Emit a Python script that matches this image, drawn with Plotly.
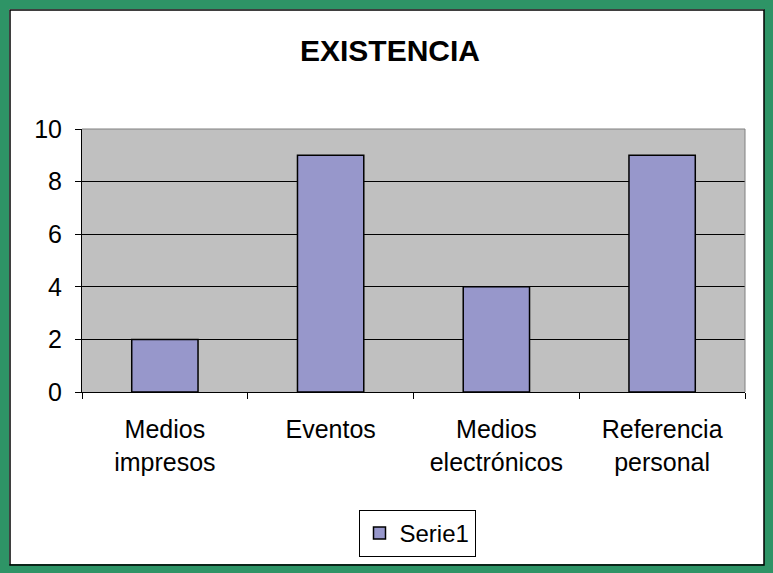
import plotly.graph_objects as go

categories = ["Medios<br>impresos", "Eventos", "Medios<br>electrónicos", "Referencia<br>personal"]
serie1 = [2, 9, 4, 9]
y_ticks = [0, 2, 4, 6, 8, 10]

W, H = 773, 573
L, R, T, B = 82, 28, 129, 181
pw, ph = W - L - R, H - T - B


def px_x(px):
    return (px - L) / pw


def px_y(py):
    return (H - B - py) / ph


fig = go.Figure()
fig.add_trace(go.Bar(
    x=categories, y=serie1, name="Serie1",
    marker=dict(color="#9797CB", line=dict(color="black", width=1.5)),
    showlegend=True,
))

shapes = [
    # green outer frame
    dict(type="rect", xref="paper", yref="paper",
         x0=px_x(4.5), x1=px_x(768.5), y0=px_y(568.5), y1=px_y(4.5),
         line=dict(color="#2E9466", width=9), fillcolor="rgba(0,0,0,0)", layer="above"),
    # thin dark inner edge
    dict(type="rect", xref="paper", yref="paper",
         x0=px_x(10), x1=px_x(764), y0=px_y(565), y1=px_y(10),
         line=dict(color="black", width=1.5), fillcolor="rgba(0,0,0,0)", layer="above"),
    # plot-area border (top and right)
    dict(type="line", xref="paper", yref="paper", x0=0, x1=1, y0=1, y1=1,
         line=dict(color="#808080", width=1), layer="above"),
    dict(type="line", xref="paper", yref="paper", x0=1, x1=1, y0=0, y1=1,
         line=dict(color="#808080", width=1), layer="above"),
]

fig.update_layout(
    width=W, height=H,
    margin=dict(l=L, r=R, t=T, b=B),
    paper_bgcolor="white",
    plot_bgcolor="#C0C0C0",
    font=dict(family="Liberation Sans, Arial, sans-serif", size=25, color="black"),
    title=dict(text="<b>EXISTENCIA</b>", font=dict(size=30, color="black"),
               x=390 / W, xanchor="center", xref="container",
               y=1 - 50 / H, yanchor="middle", yref="container"),
    bargap=0.6,
    shapes=shapes,
    legend=dict(
        x=px_x(417), xanchor="center", y=px_y(510), yanchor="top",
        bordercolor="black", borderwidth=1, bgcolor="white",
        font=dict(size=24), itemwidth=30,
    ),
    xaxis=dict(
        showline=True, linecolor="black", linewidth=1,
        ticks="outside", ticklen=6, tickcolor="black", tickson="boundaries",
        showgrid=False, tickfont=dict(size=25), ticklabelstandoff=15,
    ),
    yaxis=dict(
        range=[0, 10], tickvals=y_ticks,
        showline=True, linecolor="black", linewidth=1,
        ticks="outside", ticklen=6, tickcolor="black",
        showgrid=True, gridcolor="black", gridwidth=1,
        zeroline=False, tickfont=dict(size=25), ticklabelstandoff=8,
    ),
)

fig.write_html("out.html")
